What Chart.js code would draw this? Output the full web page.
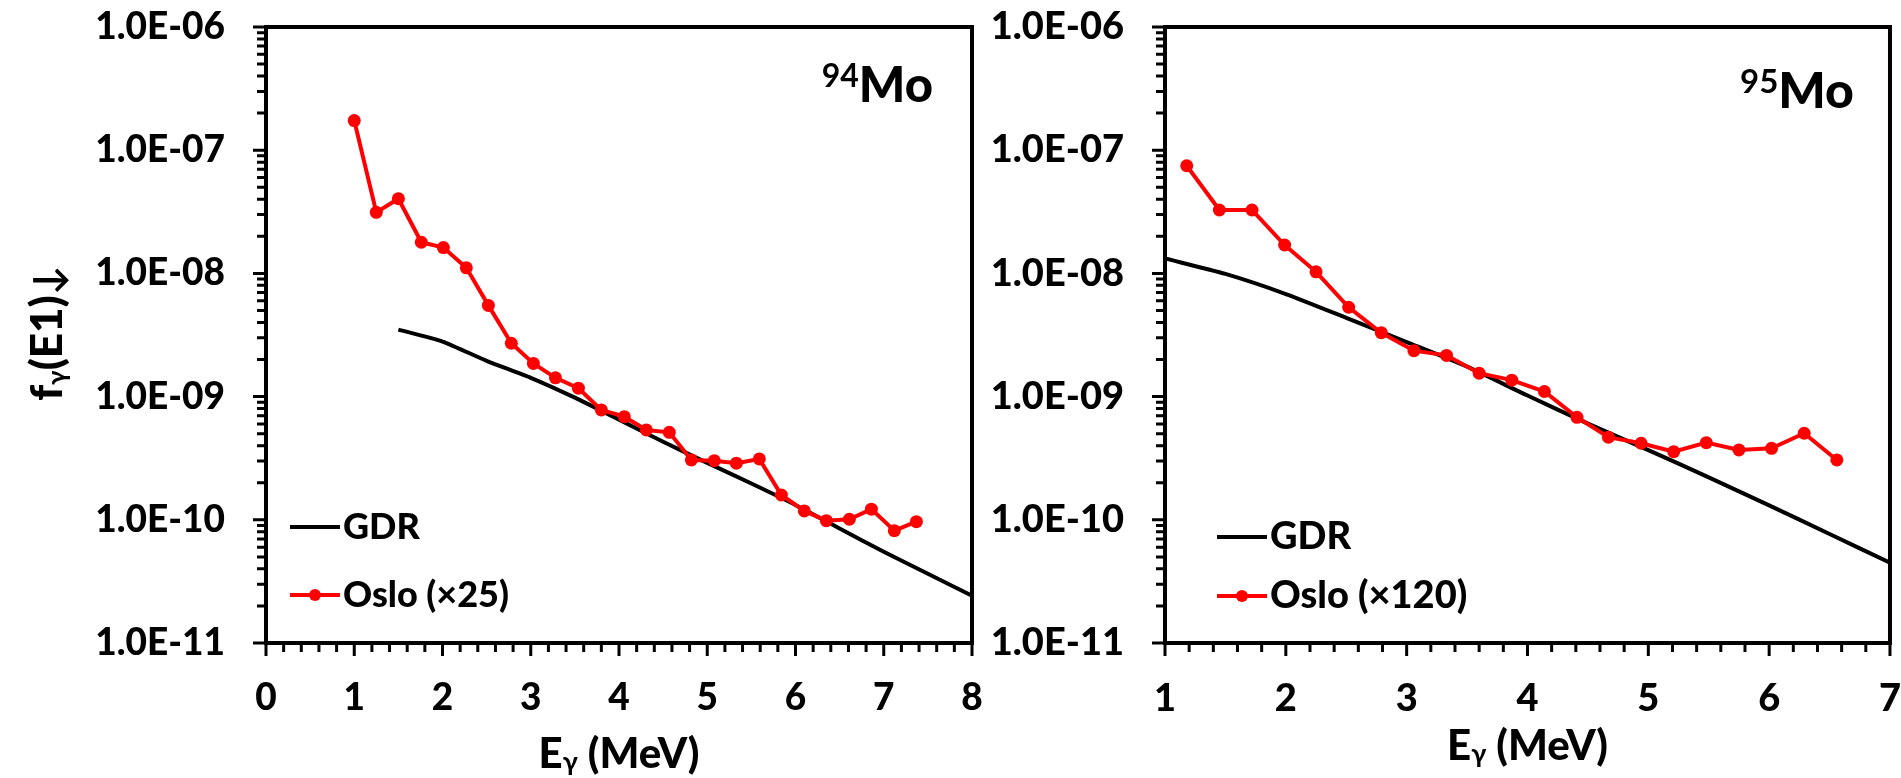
<!DOCTYPE html>
<html>
<head>
<meta charset="utf-8">
<script src="https://cdn.jsdelivr.net/npm/chart.js@4.4.0/dist/chart.umd.min.js"></script>
<style>
  body { margin: 0; background: #fff; }
  #wrap { position: relative; width: 1901px; height: 778px; background: #fff; }
  canvas { position: absolute; top: 0; }
  #left { left: 0; }
  #right { left: 975px; }
</style>
</head>
<body>
<div id="wrap">
  <canvas id="left" width="1000" height="778"></canvas>
  <canvas id="right" width="926" height="778"></canvas>
</div>
<script>
// 94Mo panel
const leftOsloE = [1.00, 1.25, 1.50, 1.76, 2.01, 2.27, 2.52, 2.78, 3.03, 3.28, 3.54, 3.80, 4.06,
                   4.31, 4.57, 4.82, 5.08, 5.33, 5.59, 5.84, 6.10, 6.35, 6.61, 6.86, 7.12, 7.37];
const leftOsloF = [1.74e-7, 3.13e-8, 4.04e-8, 1.79e-8, 1.62e-8, 1.11e-8, 5.5e-9, 2.71e-9, 1.86e-9,
                   1.42e-9, 1.17e-9, 7.8e-10, 6.87e-10, 5.36e-10, 5.13e-10, 3.06e-10, 3.02e-10,
                   2.88e-10, 3.12e-10, 1.59e-10, 1.18e-10, 9.84e-11, 1.01e-10, 1.22e-10, 8.16e-11, 9.65e-11];
const leftGdrE = [1.5, 2.0, 2.5, 3.0, 3.5, 4.0, 4.5, 5.0, 5.5, 6.0, 6.5, 7.0, 7.5, 8.0];
const leftGdrF = [3.5e-9, 2.8e-9, 1.95e-9, 1.42e-9, 9.8e-10, 6.5e-10, 4.3e-10, 2.9e-10, 1.97e-10,
                  1.32e-10, 8.5e-11, 5.5e-11, 3.65e-11, 2.42e-11];
const leftXTicks = [0, 1, 2, 3, 4, 5, 6, 7, 8];

// 95Mo panel
const rightOsloE = [1.18, 1.45, 1.72, 1.99, 2.25, 2.52, 2.79, 3.06, 3.33, 3.60, 3.87, 4.14, 4.41,
                    4.67, 4.94, 5.21, 5.48, 5.75, 6.02, 6.29, 6.56];
const rightOsloF = [7.48e-8, 3.27e-8, 3.27e-8, 1.70e-8, 1.03e-8, 5.31e-9, 3.30e-9, 2.36e-9, 2.16e-9,
                    1.55e-9, 1.36e-9, 1.10e-9, 6.79e-10, 4.68e-10, 4.18e-10, 3.57e-10, 4.23e-10,
                    3.69e-10, 3.80e-10, 5.04e-10, 3.06e-10];
const rightGdrE = [1.0, 1.5, 2.0, 2.5, 3.0, 3.5, 4.0, 4.5, 5.0, 5.5, 6.0, 6.5, 7.0];
const rightGdrF = [1.32e-8, 9.9e-9, 6.8e-9, 4.36e-9, 2.77e-9, 1.75e-9, 1.02e-9, 6.04e-10, 3.68e-10,
                   2.21e-10, 1.31e-10, 7.67e-11, 4.49e-11];
const rightXTicks = [1, 2, 3, 4, 5, 6, 7];

// shared y axis
const yDecades = [1e-11, 1e-10, 1e-9, 1e-8, 1e-7, 1e-6];
const yTickLabels = ['1.0E-11', '1.0E-10', '1.0E-09', '1.0E-08', '1.0E-07', '1.0E-06'];

const FONT = 'Lato';
const W = '900';

function near(a, b) {
  return Math.abs(a - b) <= Math.abs(b) * 1e-6 + 1e-12;
}

function drawRuns(ctx, runs, x, y, align) {
  let total = 0;
  runs.forEach(r => { ctx.font = r.font; r.w = ctx.measureText(r.text).width; total += r.w; });
  let cx = align === 'center' ? x - total / 2 : align === 'right' ? x - total : x;
  ctx.textAlign = 'left';
  ctx.textBaseline = 'alphabetic';
  runs.forEach(r => { ctx.font = r.font; ctx.fillText(r.text, cx, y + (r.dy || 0)); cx += r.w; });
}

const panelPlugin = {
  id: 'panel',
  afterDraw(chart, args, opts) {
    const ctx = chart.ctx;
    const a = chart.chartArea;
    const xs = chart.scales.x, ys = chart.scales.y;
    ctx.save();
    ctx.strokeStyle = '#000';
    ctx.fillStyle = '#000';

    // tick marks, outside the frame
    ctx.lineWidth = 3;
    ctx.beginPath();
    xs.ticks.forEach(t => {
      const px = xs.getPixelForValue(t.value);
      const len = opts.xMajor.some(m => near(t.value, m)) ? 13 : 9;
      ctx.moveTo(px, a.bottom);
      ctx.lineTo(px, a.bottom + len);
    });
    ys.ticks.forEach(t => {
      const py = ys.getPixelForValue(t.value);
      const len = yDecades.some(d => near(t.value, d)) ? 13 : 9;
      ctx.moveTo(a.left, py);
      ctx.lineTo(a.left - len, py);
    });
    ctx.stroke();

    // frame
    ctx.lineWidth = 4;
    ctx.strokeRect(a.left, a.top, a.right - a.left, a.bottom - a.top);

    // legend
    const lx = a.left + opts.legendDx;
    chart.data.datasets.forEach((ds, i) => {
      const ly = opts.legendY[i];
      ctx.strokeStyle = ds.borderColor;
      ctx.lineWidth = 4;
      ctx.beginPath();
      ctx.moveTo(lx, ly);
      ctx.lineTo(lx + 50, ly);
      ctx.stroke();
      if (ds.pointRadius > 0) {
        ctx.fillStyle = ds.pointBackgroundColor;
        ctx.beginPath();
        ctx.arc(lx + 25, ly, 6, 0, Math.PI * 2);
        ctx.fill();
      }
      ctx.fillStyle = '#000';
      drawRuns(ctx, [{ text: ds.label, font: W + ' ' + opts.legendSize + 'px ' + FONT }], lx + 53, ly + 12, 'left');
    });

    // isotope label
    const mo = W + ' ' + opts.isoSize + 'px ' + FONT;
    ctx.font = mo;
    const moW = ctx.measureText('Mo').width;
    const rx = a.right - opts.isoDx;
    const by = a.top + opts.isoDy;
    drawRuns(ctx, [{ text: 'Mo', font: mo }], rx, by, 'right');
    drawRuns(ctx, [{ text: opts.mass, font: 'bold ' + Math.round(opts.isoSize * 0.66) + 'px ' + FONT }], rx - moW, by - 15, 'right');

    // x axis title
    drawRuns(ctx, [
      { text: 'E', font: W + ' 42px ' + FONT },
      { text: 'γ', font: 'bold 27px ' + FONT, dy: 3 },
      { text: ' (MeV)', font: W + ' 42px ' + FONT }
    ], (a.left + a.right) / 2, opts.xTitleY, 'center');

    // y axis title
    if (opts.yTitle) {
      ctx.translate(62, (a.top + a.bottom) / 2 - 2);
      ctx.rotate(-Math.PI / 2);
      drawRuns(ctx, [
        { text: 'f', font: W + ' 44px ' + FONT },
        { text: 'γ', font: 'bold 26px ' + FONT, dy: 4 },
        { text: '(E1)', font: W + ' 44px ' + FONT },
        { text: '↓', font: 'bold 40px ' + FONT }
      ], 0, 0, 'center');
    }
    ctx.restore();
  }
};

function makeChart(id, c) {
  const toPts = (xs, ys) => xs.map((x, i) => ({ x: x, y: ys[i] }));
  return new Chart(document.getElementById(id), {
    type: 'line',
    data: {
      datasets: [
        {
          label: 'GDR',
          data: toPts(c.gdrE, c.gdrF),
          borderColor: '#000000',
          borderWidth: 4,
          pointRadius: 0,
          tension: 0.2,
          order: 2
        },
        {
          label: c.osloLabel,
          data: toPts(c.osloE, c.osloF),
          borderColor: '#ff0000',
          backgroundColor: '#ff0000',
          pointBackgroundColor: '#ff0000',
          borderWidth: 4,
          pointRadius: 6.5,
          pointBorderWidth: 0,
          order: 1
        }
      ]
    },
    options: {
      responsive: false,
      animation: false,
      events: [],
      layout: { padding: { left: 0, top: 27, right: c.padRight, bottom: 0 } },
      plugins: {
        legend: { display: false },
        tooltip: { enabled: false },
        panel: c.panel
      },
      scales: {
        x: {
          type: 'linear',
          min: c.xTicks[0],
          max: c.xTicks[c.xTicks.length - 1],
          // tick marks are drawn by the panel plugin; tickLength only spaces the labels
          grid: { display: false, drawTicks: true, tickLength: 33 },
          border: { display: false },
          afterBuildTicks: s => {
            const out = [];
            const n = Math.round((s.max - s.min) * 5);
            for (let i = 0; i <= n; i++) out.push({ value: Math.round((s.min * 5 + i)) / 5 });
            s.ticks = out;
          },
          afterFit: s => { s.height = 135; },
          ticks: {
            autoSkip: false,
            maxRotation: 0,
            padding: 0,
            color: '#000',
            font: { family: FONT, size: c.tickSize, weight: W },
            callback: v => {
              const i = c.xTicks.findIndex(m => near(v, m));
              return i >= 0 ? String(c.xTicks[i]) : '';
            }
          }
        },
        y: {
          type: 'logarithmic',
          min: yDecades[0],
          max: yDecades[yDecades.length - 1],
          grid: { display: false, drawTicks: true, tickLength: 39 },
          border: { display: false },
          afterBuildTicks: s => {
            const out = [];
            for (let d = 0; d < yDecades.length - 1; d++) {
              for (let k = 1; k <= 9; k++) out.push({ value: k * yDecades[d] });
            }
            out.push({ value: yDecades[yDecades.length - 1] });
            s.ticks = out;
          },
          afterFit: s => { s.width = c.axisLeft; },
          ticks: {
            autoSkip: false,
            padding: 2,
            color: '#000',
            font: { family: FONT, size: c.tickSize, weight: W },
            callback: v => {
              const i = yDecades.findIndex(d => near(v, d));
              return i >= 0 ? yTickLabels[i] : '';
            }
          }
        }
      }
    },
    plugins: [panelPlugin]
  });
}

makeChart('left', {
  gdrE: leftGdrE, gdrF: leftGdrF,
  osloE: leftOsloE, osloF: leftOsloF,
  osloLabel: 'Oslo (×25)',
  xTicks: leftXTicks,
  axisLeft: 266,
  padRight: 28,
  tickSize: 37,
  panel: {
    xMajor: leftXTicks, legendDx: 24, legendY: [527, 595], legendSize: 36,
    mass: '94', isoSize: 49, isoDx: 39, isoDy: 75, xTitleY: 768, yTitle: true
  }
});

makeChart('right', {
  gdrE: rightGdrE, gdrF: rightGdrF,
  osloE: rightOsloE, osloF: rightOsloF,
  osloLabel: 'Oslo (×120)',
  xTicks: rightXTicks,
  axisLeft: 190,
  padRight: 10,
  tickSize: 38,
  panel: {
    xMajor: rightXTicks, legendDx: 52, legendY: [537, 596], legendSize: 38,
    mass: '95', isoSize: 50, isoDx: 36, isoDy: 81, xTitleY: 760, yTitle: false
  }
});
</script>
</body>
</html>
